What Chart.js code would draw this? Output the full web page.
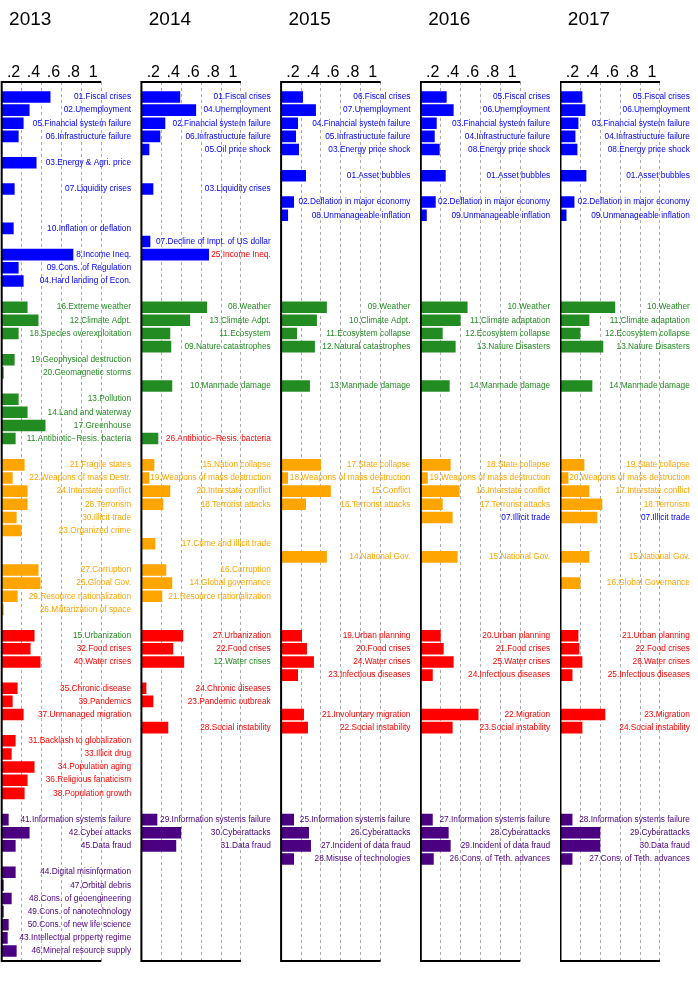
<!DOCTYPE html>
<html>
<head>
<meta charset="utf-8">
<script src="https://cdn.jsdelivr.net/npm/chart.js@4.4.1/dist/chart.umd.min.js"></script>
<style>
  body { margin: 0; background: #fff; }
  #wrap { position: relative; width: 698px; height: 997px; }
  #wrap canvas { position: absolute; top: 0; }
</style>
</head>
<body>
<div id="wrap">
  <canvas id="c0" width="138" height="997" style="left:0px"></canvas>
  <canvas id="c1" width="138" height="997" style="left:140px"></canvas>
  <canvas id="c2" width="138" height="997" style="left:280px"></canvas>
  <canvas id="c3" width="138" height="997" style="left:420px"></canvas>
  <canvas id="c4" width="138" height="997" style="left:560px"></canvas>
</div>
<script>
// ---- data ----
const years = ["2013", "2014", "2015", "2016", "2017"];
const xTickValues = [0.2, 0.4, 0.6, 0.8, 1];
const xTickLabels = [".2", ".4", ".6", ".8", "1"];

// colour groups: economic, environmental, geopolitical, societal, technological
const groupColors = ["#0000FF", "#228B22", "#FFA500", "#FF0000", "#4B0082"];
const groupFirstRow = [0, 16, 28, 41, 55];

const rows2013 = [0, 1, 2, 3, 5, 7, 10, 12, 13, 14,
  16, 17, 18, 20, 21, 23, 24, 25, 26,
  28, 29, 30, 31, 32, 33, 36, 37, 38, 39,
  41, 42, 43, 45, 46, 47, 49, 50, 51, 52, 53,
  55, 56, 57, 59, 60, 61, 62, 63, 64, 65];
const labels2013 = ["01.Fiscal crises", "02.Unemployment", "05.Financial system failure", "06.Infrastructure failure",
  "03.Energy & Agri. price", "07.Liquidity crises", "10.Inflation or deflation", "8.Income Ineq.",
  "09.Cons. of Regulation", "04.Hard landing of Econ.",
  "16.Extreme weather", "12.Climate Adpt.", "18.Species overexploitation", "19.Geophysical destruction",
  "20.Geomagnetic storms", "13.Pollution", "14.Land and waterway", "17.Greenhouse", "11.Antibiotic\u2212Resis. bacteria",
  "21.Fragile states", "22.Weapons of mass Destr.", "24.Interstate conflict", "28.Terrorism", "30.Illicit trade",
  "23.Organized crime", "27.Corruption", "25.Global Gov.", "29.Resource nationalization", "26.Militarization of space",
  "15.Urbanization", "32.Food crises", "40.Water crises", "35.Chronic disease", "39.Pandemics",
  "37.Unmanaged migration", "31.Backlash to globalization", "33.Illicit drug", "34.Population aging",
  "36.Religious fanaticism", "38.Population growth",
  "41.Information systems failure", "42.Cyber attacks", "45.Data fraud", "44.Digital misinformation",
  "47.Orbital debris", "48.Cons. of geoengineering", "49.Cons. of nanotechnology", "50.Cons. of new life science",
  "43.Intellectual property regime", "46.Mineral resource supply"];
const values2013 = [0.49, 0.28, 0.22, 0.17, 0.35, 0.13, 0.12, 0.72, 0.17, 0.22,
  0.26, 0.37, 0.17, 0.13, 0.02, 0.17, 0.26, 0.44, 0.14,
  0.23, 0.11, 0.26, 0.26, 0.15, 0.20, 0.37, 0.39, 0.16, 0.02,
  0.33, 0.29, 0.39, 0.16, 0.11, 0.22, 0.14, 0.10, 0.33, 0.26, 0.23,
  0.07, 0.28, 0.14, 0.14, 0.02, 0.10, 0.02, 0.07, 0.06, 0.15];
const recolor2013 = { 41: 1 };

const rows2014 = [0, 1, 2, 3, 4, 7, 11, 12,
  16, 17, 18, 19, 22, 26,
  28, 29, 30, 31, 34, 36, 37, 38,
  41, 42, 43, 45, 46, 48,
  55, 56, 57];
const labels2014 = ["01.Fiscal crises", "04.Unemployment", "02.Financial system failure", "06.Infrastructure failure",
  "05.Oil price shock", "03.Liquidity crises", "07.Decline of Impt. of US dollar", "25.Income Ineq.",
  "08.Weather", "13.Climate Adpt.", "11.Ecosystem", "09.Nature catastrophes", "10.Manmade damage",
  "26.Antibiotic\u2212Resis. bacteria",
  "15.Nation collapse", "19.Weapons of mass destruction", "20.Interstate conflict", "18.Terrorist attacks",
  "17.Crime and illicit trade", "16.Corruption", "14.Global governance", "21.Resource nationalization",
  "27.Urbanization", "22.Food crises", "12.Water crises", "24.Chronic diseases", "23.Pandemic outbreak",
  "28.Social instability",
  "29.Information systems failure", "30.Cyberattacks", "31.Data fraud"];
const values2014 = [0.39, 0.55, 0.24, 0.19, 0.08, 0.12, 0.09, 0.68,
  0.66, 0.49, 0.29, 0.30, 0.31, 0.17,
  0.13, 0.08, 0.29, 0.22, 0.14, 0.25, 0.31, 0.21,
  0.42, 0.32, 0.43, 0.05, 0.12, 0.27,
  0.16, 0.40, 0.35];
const recolor2014 = { 12: 3, 26: 3, 43: 1 };

const rows2015 = [0, 1, 2, 3, 4, 6, 8, 9,
  16, 17, 18, 19, 22,
  28, 29, 30, 31, 35,
  41, 42, 43, 44, 47, 48,
  55, 56, 57, 58];
const labels2015 = ["06.Fiscal crises", "07.Unemployment", "04.Financial system failure", "05.Infrastructure failure",
  "03.Energy price shock", "01.Asset bubbles", "02.Deflation in major economy", "08.Unmanageable inflation",
  "09.Weather", "10.Climate Adpt.", "11.Ecosystem collapse", "12.Natural catastrophes", "13.Manmade damage",
  "17.State collapse", "18.Weapons of mass destruction", "15.Conflict", "16.Terrorist attacks", "14.National Gov.",
  "19.Urban planning", "20.Food crises", "24.Water crises", "23.Infectious diseases", "21.Involuntary migration",
  "22.Social instability",
  "25.Information systems failure", "26.Cyberattacks", "27.Incident of data fraud", "28.Misuse of technologies"];
const values2015 = [0.22, 0.35, 0.17, 0.15, 0.18, 0.25, 0.13, 0.07,
  0.46, 0.36, 0.16, 0.34, 0.29,
  0.40, 0.07, 0.50, 0.25, 0.46,
  0.21, 0.26, 0.33, 0.17, 0.23, 0.27,
  0.13, 0.28, 0.30, 0.13];
const recolor2015 = {};

const rows2016 = [0, 1, 2, 3, 4, 6, 8, 9,
  16, 17, 18, 19, 22,
  28, 29, 30, 31, 32, 35,
  41, 42, 43, 44, 47, 48,
  55, 56, 57, 58];
const labels2016 = ["05.Fiscal crises", "06.Unemployment", "03.Financial system failure", "04.Infrastructure failure",
  "08.Energy price shock", "01.Asset bubbles", "02.Deflation in major economy", "09.Unmanageable inflation",
  "10.Weather", "11.Climate adaptation", "12.Ecosystem collapse", "13.Nature Disasters", "14.Manmade damage",
  "18.State collapse", "19.Weapons of mass destruction", "16.Interstate conflict", "17.Terrorist attacks",
  "07.Illicit trade", "15.National Gov.",
  "20.Urban planning", "21.Food crises", "25.Water crises", "24.Infectious diseases", "22.Migration",
  "23.Social instability",
  "27.Information systems failure", "28.Cyberattacks", "29.Incident of data fraud", "26.Cons. of Teth. advances"];
const values2016 = [0.26, 0.33, 0.16, 0.14, 0.19, 0.25, 0.15, 0.06,
  0.47, 0.40, 0.22, 0.35, 0.29,
  0.30, 0.07, 0.39, 0.22, 0.32, 0.37,
  0.20, 0.23, 0.33, 0.12, 0.58, 0.32,
  0.12, 0.28, 0.30, 0.13];
const recolor2016 = { 32: 0 };

const rows2017 = [0, 1, 2, 3, 4, 6, 8, 9,
  16, 17, 18, 19, 22,
  28, 29, 30, 31, 32, 35, 37,
  41, 42, 43, 44, 47, 48,
  55, 56, 57, 58];
const labels2017 = ["05.Fiscal crises", "06.Unemployment", "03.Financial system failure", "04.Infrastructure failure",
  "08.Energy price shock", "01.Asset bubbles", "02.Deflation in major economy", "09.Unmanageable inflation",
  "10.Weather", "11.Climate adaptation", "12.Ecosystem collapse", "13.Nature Disasters", "14.Manmade damage",
  "19.State collapse", "20.Weapons of mass destruction", "17.Interstate conflict", "18.Terrorism",
  "07.Illicit trade", "15.National Gov.", "16.Global Governance",
  "21.Urban planning", "22.Food crises", "26.Water crises", "25.Infectious diseases", "23.Migration",
  "24.Social instability",
  "28.Information systems failure", "29.Cyberattacks", "30.Data fraud", "27.Cons. of Teth. advances"];
const values2017 = [0.22, 0.25, 0.18, 0.15, 0.17, 0.26, 0.14, 0.06,
  0.55, 0.29, 0.20, 0.43, 0.32,
  0.24, 0.08, 0.29, 0.42, 0.37, 0.29, 0.20,
  0.18, 0.19, 0.22, 0.12, 0.45, 0.22,
  0.12, 0.40, 0.40, 0.12];
const recolor2017 = { 32: 0 };

// ---- drawing ----
Chart.defaults.font.family = "'Liberation Sans', Arial, sans-serif";
Chart.defaults.color = "#000";

const panels = [
  { rows: rows2013, labels: labels2013, values: values2013, recolor: recolor2013 },
  { rows: rows2014, labels: labels2014, values: values2014, recolor: recolor2014 },
  { rows: rows2015, labels: labels2015, values: values2015, recolor: recolor2015 },
  { rows: rows2016, labels: labels2016, values: values2016, recolor: recolor2016 },
  { rows: rows2017, labels: labels2017, values: values2017, recolor: recolor2017 }
];

function groupOf(row) {
  let g = 0;
  for (let i = 0; i < groupFirstRow.length; i++) {
    if (row >= groupFirstRow[i]) g = i;
  }
  return g;
}

// black frame (top, left, bottom) from 0 to 1 on the value axis
const framePlugin = {
  id: "frame",
  afterDatasetsDraw(chart) {
    const { ctx, chartArea, scales } = chart;
    const x0 = scales.x.getPixelForValue(0);
    const x1 = scales.x.getPixelForValue(1);
    ctx.save();
    ctx.strokeStyle = "#000";
    ctx.lineWidth = 2;
    ctx.beginPath();
    ctx.moveTo(x1, chartArea.top);
    ctx.lineTo(x0, chartArea.top);
    ctx.lineTo(x0, chartArea.bottom);
    ctx.lineTo(x1, chartArea.bottom);
    ctx.stroke();
    ctx.restore();
  }
};

const yearTitlePlugin = {
  id: "yearTitle",
  afterDraw(chart, args, opts) {
    const ctx = chart.ctx;
    const x = chart.scales.x.getPixelForValue(0) + 28.5;
    ctx.save();
    ctx.font = "19px 'Liberation Sans', Arial, sans-serif";
    ctx.fillStyle = "#000";
    ctx.textAlign = "center";
    ctx.textBaseline = "middle";
    ctx.fillText(opts.text, x, 20);
    ctx.restore();
  }
};

const pxPerUnit = 99.5;
const xMax = 1.3;

panels.forEach((p, i) => {
  const labelByRow = {};
  p.rows.forEach((r, k) => { labelByRow[r] = p.labels[k]; });
  const padLeft = 1.7 - 0.3 * i;
  const padRight = 138 - padLeft - xMax * pxPerUnit;

  new Chart(document.getElementById("c" + i), {
    type: "bar",
    data: {
      datasets: [{
        data: p.rows.map((r, k) => ({ x: p.values[k], y: r })),
        backgroundColor: p.rows.map(r => groupColors[groupOf(r)]),
        borderWidth: 0,
        barPercentage: 0.88,
        categoryPercentage: 1
      }]
    },
    options: {
      indexAxis: "y",
      responsive: false,
      animation: false,
      layout: { padding: { left: padLeft, right: padRight, top: 62.8, bottom: 36 } },
      plugins: {
        legend: { display: false },
        tooltip: { enabled: false },
        yearTitle: { text: years[i] }
      },
      scales: {
        x: {
          type: "linear",
          position: "top",
          min: 0,
          max: xMax,
          afterBuildTicks: axis => { axis.ticks = xTickValues.map(v => ({ value: v })); },
          ticks: {
            callback: (v, idx) => xTickLabels[idx],
            font: { size: 16 },
            color: "#000",
            padding: 0,
            labelOffset: -8,
            maxRotation: 0,
            autoSkip: false
          },
          grid: { color: "#aaa", lineWidth: 1, drawTicks: false },
          border: { display: false, dash: [3, 3] }
        },
        y: {
          type: "linear",
          position: "right",
          reverse: true,
          offset: false,
          min: -1.14,
          max: 65.76,
          afterBuildTicks: axis => {
            const t = [];
            for (let r = 0; r <= 65; r++) t.push({ value: r });
            axis.ticks = t;
          },
          ticks: {
            mirror: true,
            padding: 0,
            autoSkip: false,
            font: { size: 8.3 },
            callback: v => labelByRow[v] || "",
            color: ctx => {
              const r = ctx.tick ? ctx.tick.value : 0;
              const g = (r in p.recolor) ? p.recolor[r] : groupOf(r);
              return groupColors[g];
            }
          },
          grid: { display: false, drawTicks: false, offset: false },
          border: { display: false }
        }
      }
    },
    plugins: [framePlugin, yearTitlePlugin]
  });
});
</script>
</body>
</html>
